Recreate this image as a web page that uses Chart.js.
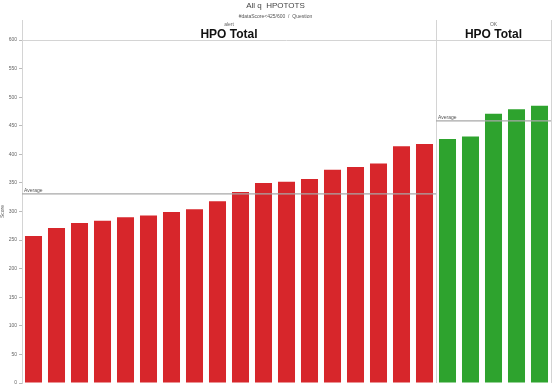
<!DOCTYPE html>
<html><head><meta charset="utf-8">
<script src="https://cdn.jsdelivr.net/npm/chart.js@4"></script>
<style>html,body{margin:0;padding:0;background:#fff}#wrap{width:553px;height:388px}</style>
</head><body><div id="wrap"><canvas id="c" width="553" height="388"></canvas></div>
<script>
const titleText = 'All q  HPOTOTS';
const subtitleText = '#dataScore<425/600  /  Question';
const groupNames = ['alert', 'OK'];
const groupHeader = 'HPO Total';
const alertScores = [257, 271, 280, 284, 290, 293, 299, 304, 318, 334, 350, 352, 357, 373, 378, 384, 414, 418];
const okScores = [427, 431, 471, 479, 485];
const categories = ['1','2','3','4','5','6','7','8','9','10','11','12','13','14','15','16','17','18','19','20','21','22','23'];
const yTicks = [0,50,100,150,200,250,300,350,400,450,500,550,600];

const RED = '#d7262b', GREEN = '#2ea32e';
const values = alertScores.concat(okScores);
const colors = alertScores.map(()=>RED).concat(okScores.map(()=>GREEN));
const mean = a => a.reduce((s,v)=>s+v,0)/a.length;

const sections = {
  id:'sections',
  afterDatasetsDraw(chart){
    const ctx = chart.ctx, xs = chart.scales.x, ys = chart.scales.y, ca = chart.chartArea;
    const n1 = alertScores.length;
    const step = xs.getPixelForValue(1) - xs.getPixelForValue(0);
    const divX = xs.getPixelForValue(n1 - 1) + step/2;
    ctx.save();
    // frame lines
    ctx.strokeStyle = '#d4d4d4'; ctx.lineWidth = 1;
    ctx.beginPath();
    [ca.left, divX, ca.right].forEach(x=>{ ctx.moveTo(Math.round(x)+0.5, 20); ctx.lineTo(Math.round(x)+0.5, ca.bottom); });
    ctx.moveTo(ca.left, Math.round(ca.top)+0.5); ctx.lineTo(ca.right, Math.round(ca.top)+0.5);
    ctx.stroke();
    // averages
    const avgs = [[ca.left, divX, mean(alertScores)], [divX, ca.right, mean(okScores)]];
    ctx.strokeStyle = '#a8a8a8'; ctx.lineWidth = 1.2;
    ctx.fillStyle = '#555'; ctx.font = '5px "Liberation Sans", Arial, sans-serif';
    ctx.textAlign = 'left'; ctx.textBaseline = 'bottom';
    avgs.forEach(([x0,x1,v])=>{
      const y = ys.getPixelForValue(v);
      ctx.beginPath(); ctx.moveTo(x0, y); ctx.lineTo(x1, y); ctx.stroke();
      ctx.fillText('Average', x0 + 2, y - 1);
    });
    // headers
    const centers = [(ca.left + divX)/2, (divX + ca.right)/2];
    ctx.textAlign = 'center'; ctx.textBaseline = 'middle';
    centers.forEach((cx,i)=>{
      ctx.fillStyle = '#666'; ctx.font = '5px "Liberation Sans", Arial, sans-serif';
      ctx.fillText(groupNames[i], cx, 25);
      ctx.fillStyle = '#111'; ctx.font = 'bold 12px "Liberation Sans", Arial, sans-serif';
      ctx.fillText(groupHeader, cx, 34.5);
    });
    ctx.restore();
  }
};

new Chart(document.getElementById('c'), {
  type:'bar',
  data:{ labels: categories, datasets:[{ data: values, backgroundColor: colors, borderWidth:0, barPercentage:0.74, categoryPercentage:1 }]},
  options:{
    responsive:false, animation:false,
    layout:{ padding:{ left:0, right:2, top:0, bottom:4 } },
    plugins:{
      legend:{display:false}, tooltip:{enabled:false},
      title:{ display:true, text:titleText, color:'#444', font:{size:8, family:'"Liberation Sans", Arial, sans-serif', weight:'normal'}, padding:{top:1,bottom:1} },
      subtitle:{ display:true, text:subtitleText, color:'#555', font:{size:5, family:'"Liberation Sans", Arial, sans-serif'}, padding:{top:2,bottom:20.4} }
    },
    scales:{
      x:{ display:false, offset:true },
      y:{ min:0, max:600, afterFit(s){ s.width = 22; },
          afterBuildTicks(s){ s.ticks = yTicks.map(v=>({value:v})); },
          ticks:{ color:'#666', font:{size:5, family:'"Liberation Sans", Arial, sans-serif'}, padding:2 },
          grid:{ drawOnChartArea:false, tickLength:3, color:'#bbb' },
          border:{ color:'#d4d4d4' },
          title:{ display:true, text:'Score', color:'#555', font:{size:5, family:'"Liberation Sans", Arial, sans-serif'}, padding:0 } }
    }
  },
  plugins:[sections]
});
</script></body></html>
